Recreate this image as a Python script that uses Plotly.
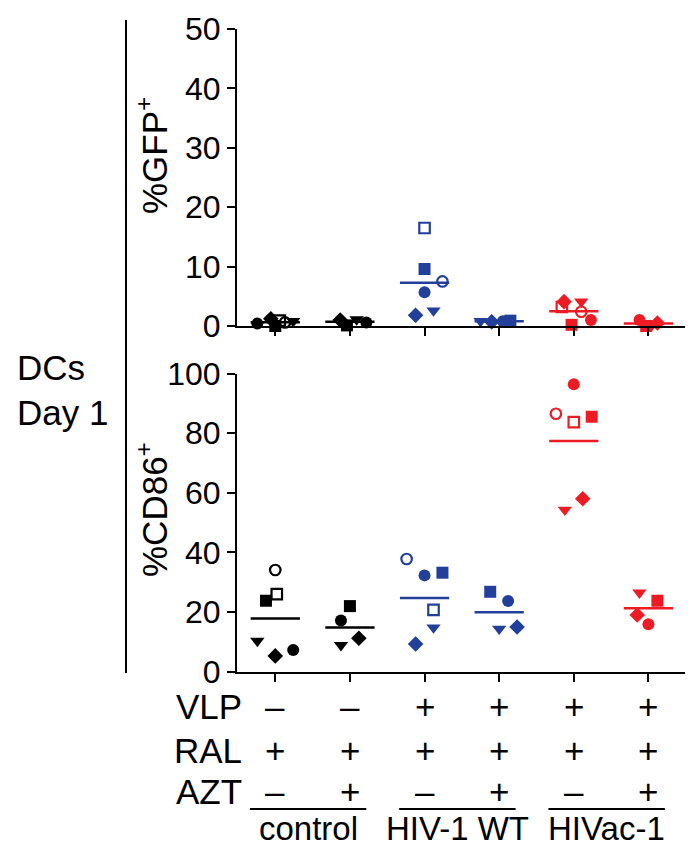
import plotly.graph_objects as go

W, H = 697, 847

# donors: one marker per donor, same across conditions
donor_symbols = ["circle", "circle-open", "square", "square-open", "triangle-down", "diamond"]

conditions = ["control AZT-", "control AZT+", "WT AZT-", "WT AZT+", "HIVac AZT-", "HIVac AZT+"]
condition_colors = ["#000000", "#000000", "#22409A", "#22409A", "#ED1C24", "#ED1C24"]

# %GFP+ (one row per condition, one column per donor; None = not tested)
gfp = [
    [0.4, 0.6, 0.0, 0.9, 0.8, 1.2],
    [0.6, None, 0.1, None, 1.1, 1.0],
    [5.7, 7.5, 9.6, 16.5, 2.6, 1.8],
    [0.8, None, 0.9, None, 0.8, 0.7],
    [1.0, 2.4, 0.2, 3.2, 4.1, 4.1],
    [1.0, None, 0.0, None, 0.2, 0.5],
]

# %CD86+
cd86 = [
    [7.3, 34.1, 23.8, 26.0, 10.3, 5.3],
    [17.2, None, 22.0, None, 8.9, 11.2],
    [32.3, 37.8, 33.2, 20.7, 14.8, 9.3],
    [23.7, None, 26.8, None, 14.4, 15.0],
    [96.4, 86.5, 85.5, 83.7, 54.3, 58.0],
    [15.9, None, 23.8, None, 26.5, 19.0],
]

# horizontal scatter offsets (category units), laid out like the original
gfp_jitter = [
    [-0.24, 0.13, 0.0, 0.06, 0.24, -0.06],
    [0.22, 0, -0.04, 0, 0.09, -0.13],
    [0.0, 0.24, 0.0, 0.0, 0.12, -0.12],
    [0.05, 0, 0.15, 0, -0.25, -0.1],
    [0.23, 0.1, -0.03, -0.16, 0.1, -0.13],
    [-0.12, 0, -0.03, 0, 0.05, 0.12],
]
cd86_jitter = [
    [0.24, 0.0, -0.125, 0.02, -0.24, 0.0],
    [-0.12, 0, 0.0, 0, -0.12, 0.12],
    [0.0, -0.24, 0.24, 0.12, 0.12, -0.12],
    [0.12, 0, -0.12, 0, 0.0, 0.24],
    [0.0, -0.24, 0.24, 0.0, -0.12, 0.12],
    [0.0, 0, 0.12, 0, -0.12, -0.15],
]

vlp = ["–", "–", "+", "+", "+", "+"]
ral = ["+", "+", "+", "+", "+", "+"]
azt = ["–", "+", "–", "+", "–", "+"]
groups = ["control", "HIV-1 WT", "HIVac-1"]

FONT = "Liberation Sans, Arial, sans-serif"
PAGE_OFFSET = 8  # the page body margin pushes the figure 8px right and down


def px_x(p):
    return (p - PAGE_OFFSET) / W


def px_y(p):
    return 1 - (p - PAGE_OFFSET) / H


fig = go.Figure()


def add_panel(values, jitter, xref, yref):
    for ci, row in enumerate(values):
        color = condition_colors[ci]
        pts = [(ci + jitter[ci][di], v, donor_symbols[di]) for di, v in enumerate(row) if v is not None]
        for x, v, sym in pts:
            size = 12 if "open" not in sym else 10.5
            if sym == "triangle-down":
                size = 12.5
            fig.add_trace(go.Scatter(
                x=[x], y=[v], xaxis=xref, yaxis=yref, mode="markers",
                marker=dict(symbol=sym, size=size, color=color,
                            line=dict(color=color, width=2.2 if "open" in sym else 0)),
                cliponaxis=False, showlegend=False, hoverinfo="y",
            ))
        vals = [v for v in row if v is not None]
        mean = sum(vals) / len(vals)
        fig.add_trace(go.Scatter(
            x=[ci - 0.33, ci + 0.33], y=[mean, mean], xaxis=xref, yaxis=yref,
            mode="lines", line=dict(color=color, width=2.5),
            cliponaxis=False, showlegend=False, hoverinfo="skip",
        ))


add_panel(gfp, gfp_jitter, "x", "y")
add_panel(cd86, cd86_jitter, "x2", "y2")

x_domain = [px_x(237), px_x(685)]
x_range = [-0.513, 5.49]
axis_common = dict(showline=True, linecolor="black", linewidth=2, ticks="outside",
                   ticklen=8, tickwidth=2, tickcolor="black", showgrid=False, zeroline=False,
                   automargin=False,
                   tickfont=dict(family=FONT, size=32, color="black"))

fig.update_layout(
    width=W, height=H,
    margin=dict(l=0, r=0, t=0, b=0, pad=0, autoexpand=False),
    paper_bgcolor="white", plot_bgcolor="white",
    xaxis=dict(domain=x_domain, range=x_range, anchor="y", tickvals=list(range(6)),
               showticklabels=False, **axis_common),
    yaxis=dict(domain=[px_y(326), px_y(29)], range=[0, 50], anchor="x",
               tickvals=[0, 10, 20, 30, 40, 50], **axis_common),
    xaxis2=dict(domain=x_domain, range=x_range, anchor="y2", tickvals=list(range(6)),
                showticklabels=False, **axis_common),
    yaxis2=dict(domain=[px_y(671.7), px_y(373.5)], range=[0, 100], anchor="x2",
                tickvals=[0, 20, 40, 60, 80, 100], **axis_common),
)

ann = []
txt = dict(family=FONT, size=35, color="black")

# left labels
ann.append(dict(text="DCs", x=px_x(15), y=px_y(367), xref="paper", yref="paper",
                xanchor="left", yanchor="middle", showarrow=False, font=txt))
ann.append(dict(text="Day 1", x=px_x(15), y=px_y(412), xref="paper", yref="paper",
                xanchor="left", yanchor="middle", showarrow=False, font=txt))
ann.append(dict(text="%GFP<sup>+</sup>", x=px_x(152), y=px_y(156), xref="paper", yref="paper",
                xanchor="center", yanchor="middle", textangle=-90, showarrow=False, font=txt))
ann.append(dict(text="%CD86<sup>+</sup>", x=px_x(152), y=px_y(510), xref="paper", yref="paper",
                xanchor="center", yanchor="middle", textangle=-90, showarrow=False, font=txt))

# treatment table under the bottom panel
rows = [("VLP", vlp, 706), ("RAL", ral, 750), ("AZT", azt, 791)]
for label, signs, py in rows:
    ann.append(dict(text=label, x=px_x(244), y=px_y(py), xref="paper", yref="paper",
                    xanchor="right", yanchor="middle", showarrow=False, font=txt))
    for ci, s in enumerate(signs):
        ann.append(dict(text=s, x=ci, y=px_y(py), xref="x2", yref="paper",
                        xanchor="center", yanchor="middle", showarrow=False, font=txt))

shapes = [dict(type="line", xref="paper", yref="paper", x0=px_x(126), x1=px_x(126),
               y0=px_y(20), y1=px_y(673), line=dict(color="black", width=2))]
for gi, g in enumerate(groups):
    x0, x1 = 2 * gi - 0.34, 2 * gi + 1.22
    shapes.append(dict(type="line", xref="x2", yref="paper", x0=x0, x1=x1,
                       y0=px_y(809), y1=px_y(809), line=dict(color="black", width=2)))
    ann.append(dict(text=g, x=(x0 + x1) / 2, y=px_y(828), xref="x2", yref="paper",
                    xanchor="center", yanchor="middle", showarrow=False,
                    font=dict(family=FONT, size=33, color="black")))

fig.update_layout(annotations=ann, shapes=shapes)

fig.write_html("out.html")
